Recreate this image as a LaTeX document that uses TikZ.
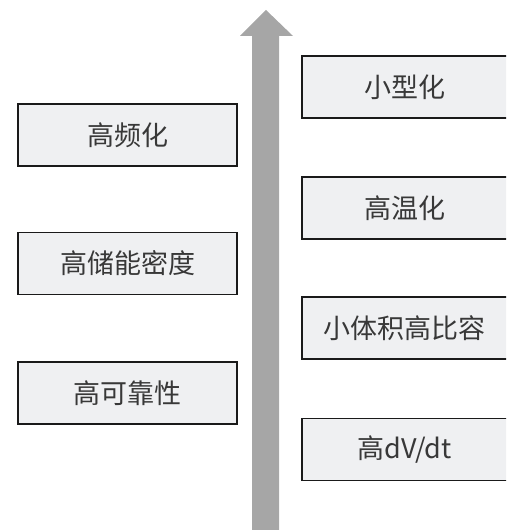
\documentclass[tikz,border=0pt]{standalone}
\usepackage{fontspec}
\newfontfamily\cjk{Noto Sans CJK SC}
\definecolor{boxfill}{HTML}{EFF0F2}
\definecolor{arrowgray}{HTML}{A6A6A6}
\definecolor{boxline}{HTML}{1A1A1A}
\begin{document}
\begin{tikzpicture}[x=1pt,y=1pt,
  featbox/.style={draw=boxline, line width=1.2pt, fill=boxfill, minimum height=62pt,
    inner sep=0pt, font=\cjk\fontsize{27}{32}\selectfont, text=black!78},
  leftbox/.style={featbox, minimum width=219pt},
  rightbox/.style={featbox, minimum width=207pt}]
\useasboundingbox (0,0) rectangle (506,530);
\clip (0,0) rectangle (506,530);
% trunk arrow
\fill[arrowgray] (252,-2) -- (252,494) -- (240,494) -- (266,520) -- (293,494) -- (279,494) -- (279,-2) -- cycle;
% left boxes
\node[leftbox] (hf) at (127.5,395) {高频化};
\node[leftbox] (he) at (127.5,266.5) {高储能密度};
\node[leftbox] (hr) at (127.5,137) {高可靠性};
% right boxes
\node[rightbox] (sm) at (405.5,443) {\hspace*{-2pt}小型化};
\node[rightbox] (ht) at (405.5,322) {\hspace*{-2pt}高温化};
\node[rightbox] (sv) at (405.5,202) {\hspace*{-2pt}小体积高比容};
\node[rightbox] (dv) at (405.5,80.5) {\hspace*{-2pt}高dV/dt};
\end{tikzpicture}
\end{document}
